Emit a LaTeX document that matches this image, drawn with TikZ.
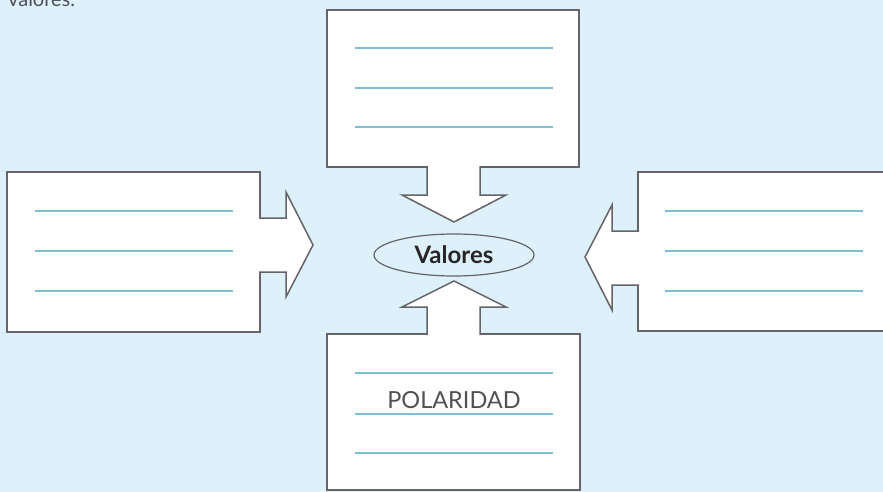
\documentclass[tikz,border=0pt]{standalone}
\usepackage{fontspec}
\setmainfont{Lato}
\usetikzlibrary{shapes}
\usetikzlibrary{positioning}

\definecolor{fondo}{RGB}{222,240,250}
\definecolor{borde}{RGB}{100,100,105}
\definecolor{raya}{RGB}{125,192,212}
\definecolor{letra}{RGB}{80,80,85}

\begin{document}
\begin{tikzpicture}[x=1pt,y=-1pt]
\tikzstyle{caja}=[rectangle,draw=borde,line width=1.5pt,fill=white,inner sep=0pt]
\tikzstyle{flecha}=[draw=borde,line width=1.5pt,fill=white,line join=miter]
\tikzstyle{raya}=[draw=raya,line width=1.5pt]
%fondo
\useasboundingbox (0,0) rectangle (883,492);
\fill[fondo] (0,0) rectangle (883,492);
\node[anchor=base west,inner sep=0pt,text=letra,font=\fontsize{20}{24}\selectfont] (titulo) at (8,7) {valores.};
%cajas
\node[caja,minimum width=252pt,minimum height=157pt] (arriba) at (453,88.5) {};
\node[caja,minimum width=253pt,minimum height=160pt] (izquierda) at (133.5,252) {};
\node[caja,minimum width=257pt,minimum height=159pt] (derecha) at (766.5,251.5) {};
\node[caja,minimum width=253pt,minimum height=156pt] (abajo) at (453.5,412) {};
%flechas
\path[flecha] (427,166) -- (427,195) -- (402,195) -- (454,222) -- (506,195) -- (480,195) -- (480,166);
\path[flecha] (259,218) -- (286,218) -- (286,192) -- (313,245) -- (286,297) -- (286,272) -- (259,272);
\path[flecha] (639,231) -- (612,231) -- (612,205) -- (585,257) -- (612,310) -- (612,285) -- (639,285);
\path[flecha] (427,335) -- (427,307) -- (402,307) -- (454,281) -- (506,307) -- (480,307) -- (480,335);
%renglones
\draw[raya] (355,48) -- (553,48);
\draw[raya] (355,88) -- (553,88);
\draw[raya] (355,127) -- (553,127);
\draw[raya] (35,211) -- (233,211);
\draw[raya] (35,251) -- (233,251);
\draw[raya] (35,291) -- (233,291);
\draw[raya] (665,211) -- (863,211);
\draw[raya] (665,251) -- (863,251);
\draw[raya] (665,291) -- (863,291);
\draw[raya] (355,373) -- (553,373);
\draw[raya] (355,414) -- (553,414);
\draw[raya] (355,453) -- (553,453);
%textos
\node[ellipse,draw=borde,line width=1.2pt,minimum width=160pt,minimum height=42pt,inner sep=0pt,text=black!85,font=\bfseries\fontsize{24}{28}\selectfont] (valores) at (454,255) {Valores};
\node[text=letra,font=\fontsize{23.5}{28}\selectfont] (polaridad) at (454,400) {POLARIDAD};
\end{tikzpicture}
\end{document}
